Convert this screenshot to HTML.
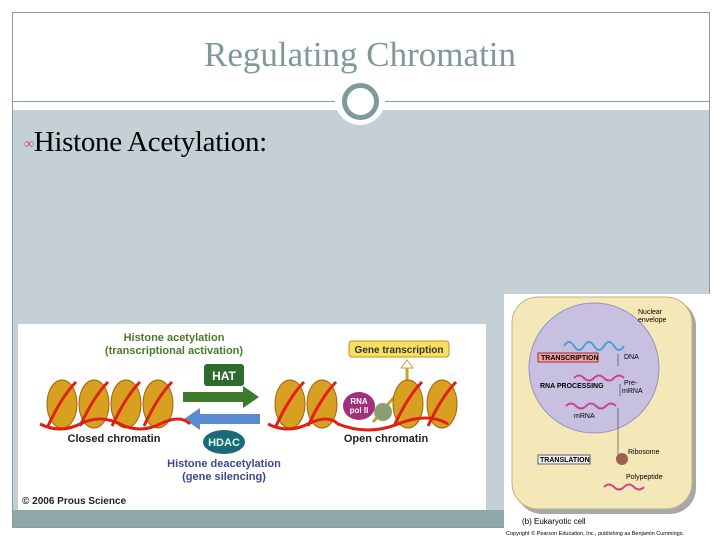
<!DOCTYPE html>
<html><head><style>
body{margin:0;width:720px;height:540px;overflow:hidden;background:#fff;position:relative;font-family:"Liberation Serif",serif}
.a{position:absolute}
</style></head><body>
<div class="a" style="left:12px;top:12px;width:698px;height:516px;border:1px solid #8a9c9c;box-sizing:border-box"></div>
<div class="a" style="left:13px;top:110px;width:696px;height:400px;background:#c5d0d6"></div>
<div class="a" style="left:13px;top:510px;width:696px;height:17px;background:#8ea8a8"></div>
<div class="a" style="left:13px;top:101px;width:696px;height:1px;background:#8a9c9c"></div>
<div class="a" style="left:0;top:35px;width:720px;text-align:center;font-size:35px;color:#7f9999">Regulating Chromatin</div>
<div class="a" style="left:335px;top:75px;width:50px;height:50px;border-radius:50%;background:#fff"></div>
<div class="a" style="left:342px;top:83px;width:27px;height:27px;border-radius:50%;border:5px solid #7f9a9a;background:#fff"></div>
<div class="a" style="left:24px;top:126px;font-size:29px;color:#000;letter-spacing:-0.3px"><span style="color:#c0504d;font-size:14px;vertical-align:3px">&#x221E;</span>Histone Acetylation:</div>
<svg class="a" style="left:18px;top:324px" width="468" height="186" font-family="Liberation Sans,sans-serif" font-weight="bold">
<rect width="468" height="186" fill="#fff"/>
<text x="156" y="17" font-size="11" fill="#4a7a2a" text-anchor="middle">Histone acetylation</text>
<text x="156" y="30" font-size="11" fill="#4a7a2a" text-anchor="middle">(transcriptional activation)</text>
<rect x="186" y="40" width="40" height="22" rx="3" fill="#2e6b2e"/><text x="206" y="56" fill="#fff" font-size="12" text-anchor="middle">HAT</text>
<path d="M165 68h60v-6l16 11-16 11v-6h-60z" fill="#3c7a2c"/>
<path d="M252 48h-60v-6l-16 11 16 11v-6h60z" fill="#5a8ad0" transform="translate(-10,42)"/>
<ellipse cx="206" cy="118" rx="21" ry="12" fill="#1a6a7a"/><text x="206" y="122" fill="#dfe" font-size="11" text-anchor="middle">HDAC</text>
<text x="206" y="143" font-size="11" fill="#3a4a8a" text-anchor="middle">Histone deacetylation</text>
<text x="206" y="156" font-size="11" fill="#3a4a8a" text-anchor="middle">(gene silencing)</text>
<text x="96" y="118" font-size="11" fill="#222" text-anchor="middle">Closed chromatin</text>
<text x="368" y="118" font-size="11" fill="#222" text-anchor="middle">Open chromatin</text>
<text x="4" y="180" font-size="10" fill="#222">© 2006 Prous Science</text>
<rect x="331" y="17" width="100" height="16" rx="3" fill="#f7e060" stroke="#c09020"/><text x="381" y="29" font-size="10" fill="#333" text-anchor="middle">Gene transcription</text>
<path d="M355 98l34-40v-18" stroke="#c9a030" stroke-width="3" fill="none"/>
<path d="M383 44l6-8 6 8z" fill="#fff" stroke="#c9a030"/>
<g fill="#d8a020" stroke="#a06010">
<ellipse cx="44" cy="80" rx="15" ry="24"/><ellipse cx="76" cy="80" rx="15" ry="24"/><ellipse cx="108" cy="80" rx="15" ry="24"/><ellipse cx="140" cy="80" rx="15" ry="24"/>
<ellipse cx="272" cy="80" rx="15" ry="24"/><ellipse cx="304" cy="80" rx="15" ry="24"/><ellipse cx="390" cy="80" rx="15" ry="24"/><ellipse cx="424" cy="80" rx="15" ry="24"/>
</g>
<g stroke="#e02010" stroke-width="3" fill="none">
<path d="M30 102q14-30 28-44M62 102q14-30 28-44M94 102q14-30 28-44M126 102q14-30 28-44M258 102q14-30 28-44M290 102q14-30 28-44M376 102q14-30 28-44M410 102q14-30 28-44"/>
<path d="M22 100q20 10 40 0t40 0t40 0t30 0M250 100q20 10 40 0t30 0q30 12 60 0t50 0"/>
</g>
<ellipse cx="341" cy="82" rx="16" ry="14" fill="#a0307a"/><text x="341" y="80" font-size="8" fill="#fff" text-anchor="middle">RNA</text><text x="341" y="89" font-size="8" fill="#fff" text-anchor="middle">pol II</text>
<circle cx="365" cy="88" r="9" fill="#8aa070"/>
</svg>
<svg class="a" style="left:504px;top:294px" width="216" height="246" font-family="Liberation Sans,sans-serif" font-size="7">
<rect width="216" height="246" fill="#fff"/>
<rect x="12" y="6" width="180" height="214" rx="26" fill="#a8a8a8"/>
<rect x="8" y="3" width="180" height="212" rx="26" fill="#f5e8b8" stroke="#c0b080"/>
<circle cx="90" cy="74" r="65" fill="#c8c0e0" stroke="#9a90c0"/>
<path d="M60 52q5-8 10 0t10 0t10 0t10 0t10 0t10 0" stroke="#4aa0d0" stroke-width="2" fill="none"/>
<path d="M70 84q5-5 10 0t10 0t10 0t10 0t10 0M62 112q5-5 10 0t10 0t10 0t10 0t10 0M100 193q5-5 10 0t10 0t10 0t10 0" stroke="#d04090" stroke-width="2" fill="none"/>
<path d="M114 60v12M116 90v12M114 114v52" stroke="#333" stroke-width="0.6"/>
<rect x="34" y="59" width="60" height="9" fill="#f0a0a0" stroke="#a03030"/><text x="37" y="66" font-weight="bold">TRANSCRIPTION</text>
<text x="36" y="94" font-weight="bold">RNA PROCESSING</text>
<rect x="34" y="161" width="52" height="9" fill="#eee" stroke="#666"/><text x="36" y="168" font-weight="bold">TRANSLATION</text>
<text x="120" y="65">DNA</text><text x="120" y="91">Pre-</text><text x="118" y="99">mRNA</text><text x="70" y="124">mRNA</text>
<text x="134" y="20">Nuclear</text><text x="134" y="28">envelope</text>
<text x="124" y="160">Ribosome</text><text x="122" y="185">Polypeptide</text>
<circle cx="118" cy="165" r="6" fill="#a06050"/>
<text x="18" y="230" font-size="8">(b) Eukaryotic cell</text>
<text x="2" y="241" font-size="5.5">Copyright © Pearson Education, Inc., publishing as Benjamin Cummings.</text>
</svg>
</body></html>
